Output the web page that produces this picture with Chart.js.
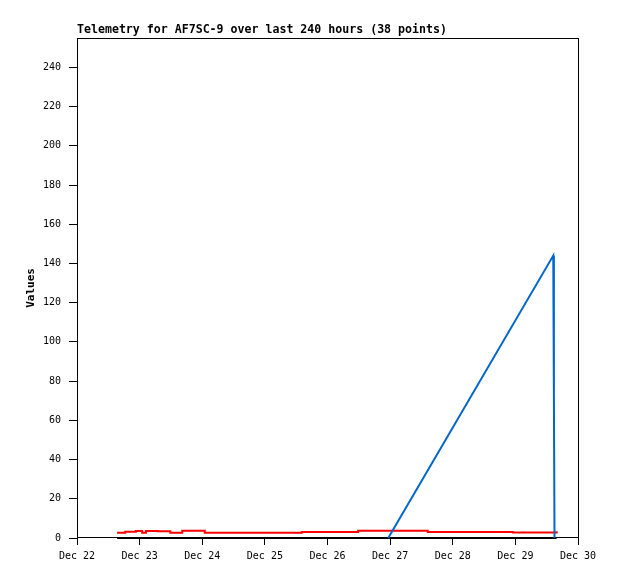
<!DOCTYPE html>
<html>
<head>
<meta charset="utf-8">
<title>Telemetry for AF7SC-9</title>
<script src="https://cdn.jsdelivr.net/npm/chart.js@4/dist/chart.umd.min.js"></script>
<style>
  html, body { margin: 0; padding: 0; background: #ffffff; }
  canvas { display: block; }
</style>
</head>
<body>
<canvas id="myChart" width="618" height="579"></canvas>
<script>
// time in days after Dec 22 00:00
const START_DAY = 22;
const dayLabels = ['Dec 22', 'Dec 23', 'Dec 24', 'Dec 25', 'Dec 26', 'Dec 27', 'Dec 28', 'Dec 29', 'Dec 30'];

const packetTimes = [0.64, 0.77, 0.94, 1.04, 1.10, 1.22, 1.29, 1.40, 1.49, 1.60,
                     1.68, 1.85, 2.04, 2.30, 2.55, 2.80, 3.05, 3.30, 3.59, 3.85,
                     4.10, 4.30, 4.49, 4.75, 4.97, 5.30, 5.60, 5.90, 6.20, 6.50,
                     6.75, 6.96, 7.20, 7.45, 7.60, 7.62, 7.64, 7.66];

const redValues = [2.7, 3.2, 3.6, 2.7, 3.6, 3.6, 3.4, 3.4, 2.7, 2.7,
                   3.7, 3.7, 2.7, 2.7, 2.7, 2.7, 2.7, 2.7, 3.1, 3.1,
                   3.1, 3.1, 3.7, 3.7, 3.7, 3.7, 3.1, 3.1, 3.1, 3.1,
                   3.1, 2.8, 2.8, 2.8, 2.8, 2.8, 2.8, 3.5];

const blackValues = [0, 0, 0, 0, 0, 0, 0, 0, 0, 0,
                     0, 0, 0, 0, 0, 0, 0, 0, 0, 0,
                     0, 0, 0, 0, 0, 0, 0, 0, 0, 0,
                     0, 0, 0, 0, 0, 0, 0, 0];

const blueTimes = [4.97, 7.605, 7.615, 7.625];
const blueValues = [0, 144, 73, 0];

const yTicks = [0, 20, 40, 60, 80, 100, 120, 140, 160, 180, 200, 220, 240];
const Y_MAX = 255;

function toPoints(times, values) {
    let pts = [];
    for (var i = 0; i < times.length; i++) {
        pts.push({ x: times[i], y: values[i] });
    }
    return pts;
}

const monoFont = "'DejaVu Sans Mono', 'Liberation Mono', monospace";

// box around the plot area, like the gnuplot frame
const frameBox = {
    id: 'frameBox',
    beforeDatasetsDraw(chart) {
        let a = chart.chartArea;
        let ctx = chart.ctx;
        ctx.save();
        ctx.strokeStyle = '#000000';
        ctx.lineWidth = 1;
        ctx.strokeRect(Math.round(a.left) + 0.5, Math.round(a.top) + 0.5,
                       Math.round(a.right - a.left), Math.round(a.bottom - a.top) - 1);
        ctx.restore();
    }
};

let ctx = document.getElementById('myChart').getContext('2d');

let myChart = new Chart(ctx, {
    type: 'line',
    data: {
        datasets: [{
            label: 'blue',
            data: toPoints(blueTimes, blueValues),
            borderColor: '#0066cc',
            borderWidth: 2,
            pointRadius: 0,
            tension: 0,
            clip: false
        }, {
            label: 'black',
            data: toPoints(packetTimes, blackValues),
            borderColor: '#000000',
            borderWidth: 2,
            pointRadius: 0,
            tension: 0,
            clip: false
        }, {
            label: 'red',
            data: toPoints(packetTimes, redValues),
            borderColor: '#ff0000',
            borderWidth: 2,
            pointRadius: 0,
            stepped: true,
            clip: false
        }]
    },
    options: {
        responsive: false,
        animation: false,
        layout: {
            padding: { left: 0, right: 40, top: 0, bottom: 0 }
        },
        plugins: {
            legend: { display: false },
            tooltip: { enabled: false },
            title: {
                display: true,
                text: 'Telemetry for AF7SC-9 over last 240 hours (38 points)',
                align: 'start',
                fullSize: false,
                color: '#000000',
                font: { family: monoFont, size: 11.6, weight: 'bold' },
                padding: { top: 23, bottom: 1 }
            }
        },
        scales: {
            x: {
                type: 'linear',
                min: 0,
                max: 8,
                afterFit: function(scale) { scale.height = 41; },
                border: { display: false },
                grid: {
                    drawOnChartArea: false,
                    drawTicks: true,
                    tickLength: 7,
                    color: '#000000'
                },
                ticks: {
                    stepSize: 1,
                    autoSkip: false,
                    maxRotation: 0,
                    padding: 5,
                    color: '#000000',
                    font: { family: monoFont, size: 10 },
                    callback: function(value) {
                        return dayLabels[value - (START_DAY - 22)];
                    }
                }
            },
            y: {
                min: 0,
                max: Y_MAX,
                afterFit: function(scale) { scale.width = 77; },
                afterBuildTicks: function(scale) {
                    scale.ticks = yTicks.map(function(v) { return { value: v }; });
                },
                border: { display: false },
                grid: {
                    drawOnChartArea: false,
                    drawTicks: true,
                    tickLength: 8,
                    color: '#000000'
                },
                ticks: {
                    padding: 8,
                    color: '#000000',
                    font: { family: monoFont, size: 10 }
                },
                title: {
                    display: true,
                    text: 'Values',
                    color: '#000000',
                    font: { family: monoFont, size: 11, weight: 'bold' },
                    padding: { top: 25, bottom: 0 }
                }
            }
        }
    },
    plugins: [frameBox]
});
</script>
</body>
</html>
